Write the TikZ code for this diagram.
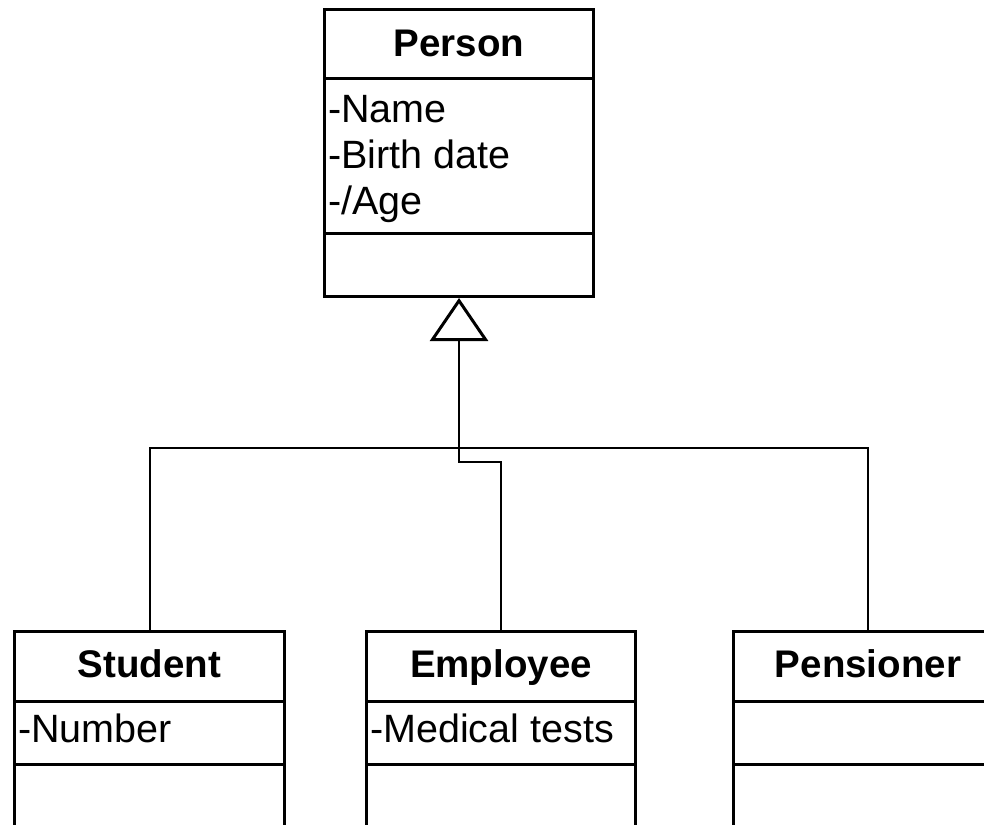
\documentclass[tikz,border=0pt]{standalone}
\usepackage{fontspec}
\setmainfont{Liberation Sans}
\usetikzlibrary{arrows.meta}
\newcommand{\attrfont}{\fontsize{39.5}{44}\selectfont}
\newcommand{\headfont}{\fontsize{38.5}{44}\selectfont\bfseries}
\begin{document}
\begin{tikzpicture}[x=1pt,y=-1pt,
  classbox/.style={draw, line width=3pt, inner sep=0pt, anchor=north west},
  sepline/.style={line width=3pt},
  conn/.style={line width=2pt},
  header/.style={anchor=base, inner sep=0pt, font=\headfont},
  attr/.style={anchor=base west, inner sep=0pt, font=\attrfont},
  inherit/.style={conn, -{Triangle[open, length=43pt, width=58pt, line width=3pt]}}]
\useasboundingbox (0,0) rectangle (984,824);
\clip (0,0) rectangle (984,824);

% class boxes
\node[classbox, minimum width=269pt, minimum height=287pt] (person) at (323,8) {};
\node[classbox, minimum width=270pt, minimum height=240pt] (student) at (13,630) {};
\node[classbox, minimum width=269pt, minimum height=240pt] (employee) at (365,630) {};
\node[classbox, minimum width=269pt, minimum height=240pt] (pensioner) at (732,630) {};

% compartment separators
\draw[sepline] (person.west |- 0,79) -- (person.east |- 0,79);
\draw[sepline] (person.west |- 0,233) -- (person.east |- 0,233);
\foreach \c in {student, employee, pensioner}{
  \draw[sepline] (\c.west |- 0,701) -- (\c.east |- 0,701);
  \draw[sepline] (\c.west |- 0,764) -- (\c.east |- 0,764);
}

% names and attributes
\node[header] (personname) at (person.north |- 0,57) {Person};
\node[attr] (pname) at (328,122) {-Name};
\node[attr] (pbirth) at (328,168) {-Birth date};
\node[attr] (page) at (328,214) {-/Age};

\node[header] (studentname) at (student.north |- 0,677) {Student};
\node[attr] (snumber) at (18,742) {-Number};
\node[header] (employeename) at (employee.north |- 0,677) {Employee};
\node[attr] (emedical) at (370,742) {-Medical tests};
\node[header] (pensionername) at (pensioner.north |- 0,677) {Pensioner};

% generalisation connectors
\coordinate (bus) at (0,448);
\coordinate (jog) at (0,462);
\draw[conn] (student.north) -- (student.north |- bus) -| (pensioner.north);
\draw[inherit] (employee.north) -- (employee.north |- jog) -| (person.south);
\end{tikzpicture}
\end{document}
